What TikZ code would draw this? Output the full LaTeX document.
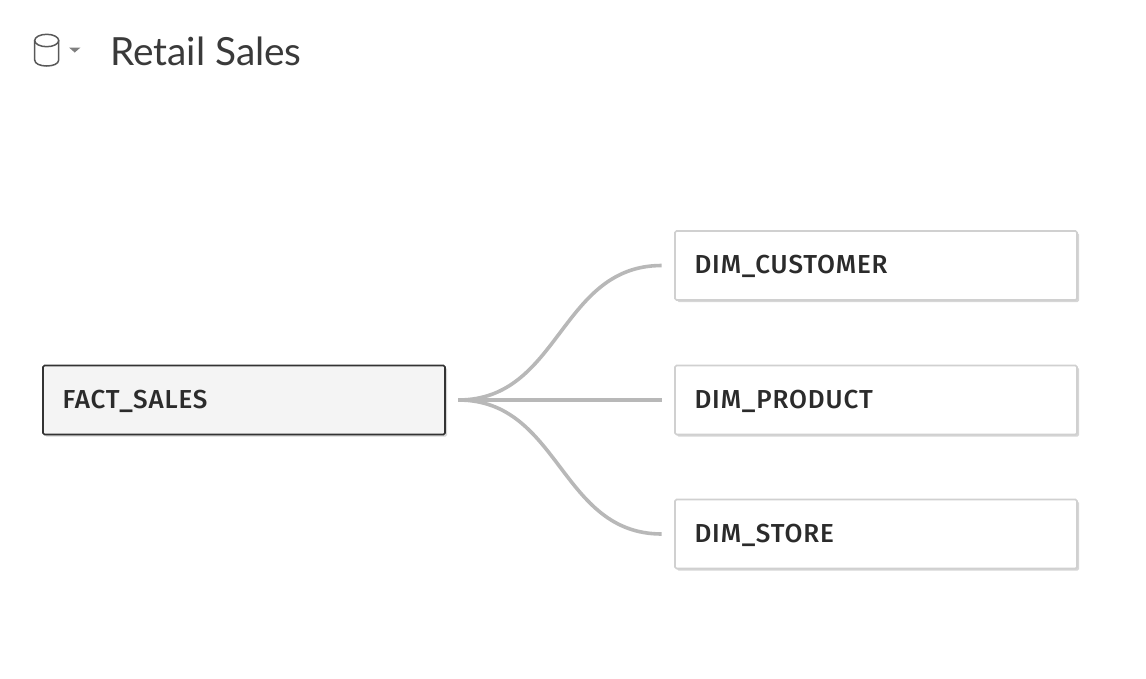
\documentclass[tikz,border=0pt]{standalone}
\usepackage{fontspec}
\setmainfont{Lato}
\newfontfamily\labelfont[LetterSpace=3.4]{Fira Sans Medium}
\usetikzlibrary{shadows}
\definecolor{titlecol}{HTML}{3A3A3A}
\definecolor{labelcol}{HTML}{2B2B2B}
\definecolor{linkcol}{HTML}{B8B8B8}
\definecolor{boxline}{HTML}{D0D0D0}
\definecolor{factfill}{HTML}{F4F4F4}
\definecolor{factline}{HTML}{333333}
\tikzset{
  x=1pt,y=-1pt,
  tablebox/.style={draw=boxline,line width=1.6pt,fill=white,rounded corners=1.5pt,
    minimum width=402pt,minimum height=69pt,text width=363pt,inner xsep=19pt,inner ysep=0pt,
    text height=16pt,text depth=0pt,
    align=left,font=\labelfont\fontsize{26}{31}\selectfont,text=labelcol,
    drop shadow={shadow xshift=2pt,shadow yshift=-2pt,fill=black,opacity=.16}},
  factbox/.style={tablebox,draw=factline,fill=factfill},
  link/.style={draw=linkcol,line width=3.6pt},
  icon/.style={draw=#1,line width=1.5pt},
}
\begin{document}
\begin{tikzpicture}
\useasboundingbox (0,0) rectangle (1146,678);
% database icon
\draw[icon=titlecol!85!white] (34.7,40.5) -- (34.7,60) .. controls (34.7,68) and (58.7,68) .. (58.7,60) -- (58.7,40.5);
\draw[icon=titlecol!85!white] (46.7,40.5) ellipse [x radius=12,y radius=6.2];
\fill[titlecol!65!white] (69,47.5) -- (80.5,47.5) -- (74.75,52.5) -- cycle;
\node[anchor=west,inner sep=0pt,font=\fontsize{38.8}{46}\selectfont,text=titlecol] (title) at (110,51) {Retail Sales};
% tables
\node[factbox] (fact) at (244,400) {FACT\_SALES};
\node[tablebox] (cust) at (876,265.5) {DIM\_CUSTOMER};
\node[tablebox] (prod) at (876,400) {DIM\_PRODUCT};
\node[tablebox] (store) at (876,534) {DIM\_STORE};
% connector ends
\coordinate (hub) at ([xshift=12.5pt]fact.east);
\coordinate (custend) at ([xshift=-12.5pt]cust.west);
\coordinate (prodend) at ([xshift=-12.5pt]prod.west);
\coordinate (storeend) at ([xshift=-12.5pt]store.west);
\draw[link] (hub) .. controls ([xshift=102pt]hub) and ([xshift=-102pt]custend) .. (custend);
\draw[link] (hub) -- (prodend);
\draw[link] (hub) .. controls ([xshift=102pt]hub) and ([xshift=-102pt]storeend) .. (storeend);
\end{tikzpicture}
\end{document}
